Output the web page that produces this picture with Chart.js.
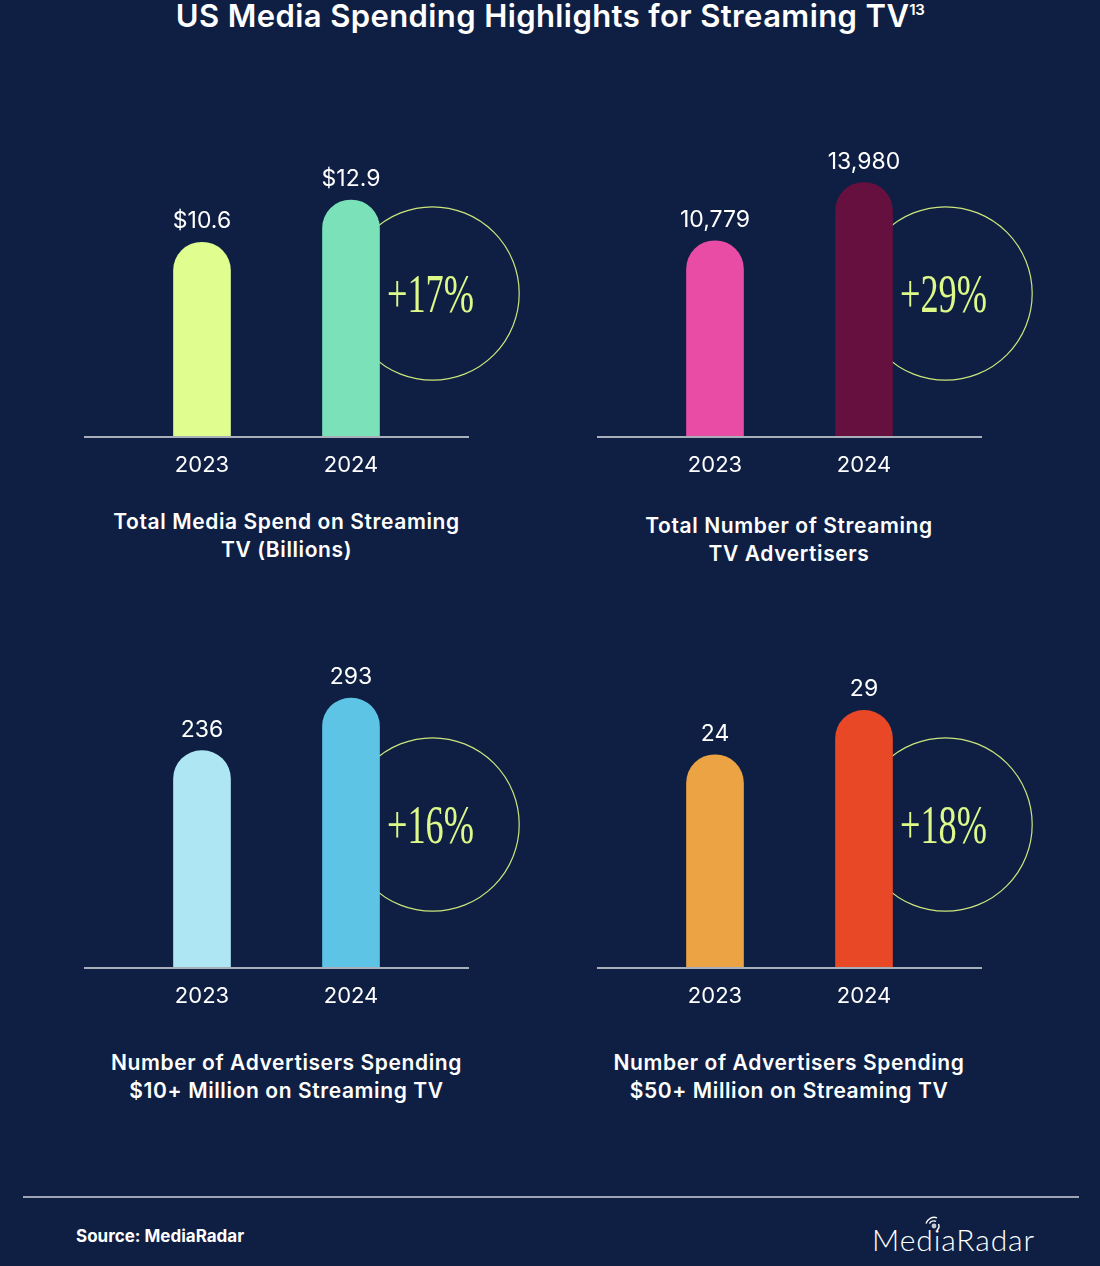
<!DOCTYPE html>
<html lang="en">
<head>
<meta charset="utf-8">
<title>US Media Spending Highlights for Streaming TV</title>
<script src="https://cdn.jsdelivr.net/npm/chart.js@4.4.1/dist/chart.umd.min.js"></script>
<style>
    html, body { margin: 0; padding: 0; }
    body {
        width: 1100px; height: 1266px; position: relative; overflow: hidden;
        background: #0f1f43; color: #fff;
        font-family: Inter, "Noto Sans", sans-serif;
    }
    .title {
        position: absolute; left: 0; top: -2px; width: 1100px;
        text-align: center; font-size: 31px; font-weight: 600; line-height: 36px;
        letter-spacing: 0.4px;
    }
    .title sup { font-size: 15px; vertical-align: 0; position: relative; top: -12px; letter-spacing: -0.5px; }
    .panel { position: absolute; }
    .caption {
        position: absolute; width: 480px; margin-left: -240px;
        text-align: center; font-size: 21px; font-weight: 600; line-height: 28px;
        letter-spacing: 0.6px;
    }
    .rule { position: absolute; left: 23px; top: 1196px; width: 1056px; height: 2px; background: #9ea4b3; }
    .source { position: absolute; left: 76px; top: 1226px; font-size: 17px; font-weight: 700; line-height: 20px; letter-spacing: 0; }
    .logo { position: absolute; left: 872px; top: 1221px; font-family: Lato, sans-serif; font-weight: 300; font-size: 30px; line-height: 36px; letter-spacing: 0.9px; }
    .logo-icon { position: absolute; left: 919px; top: 1215px; }
</style>
</head>
<body>
    <div class="title">US Media Spending Highlights for Streaming TV<sup>13</sup></div>

    <canvas class="panel" id="c0" width="460" height="393" style="left:84px;top:100px"></canvas>
    <canvas class="panel" id="c1" width="460" height="393" style="left:597px;top:100px"></canvas>
    <canvas class="panel" id="c2" width="460" height="393" style="left:84px;top:631px"></canvas>
    <canvas class="panel" id="c3" width="460" height="393" style="left:597px;top:631px"></canvas>

    <div class="caption" style="left:286.5px;top:508px">Total Media Spend on Streaming<br>TV (Billions)</div>
    <div class="caption" style="left:789px;top:512px">Total Number of Streaming<br>TV Advertisers</div>
    <div class="caption" style="left:286.5px;top:1049px">Number of Advertisers Spending<br>$10+ Million on Streaming TV</div>
    <div class="caption" style="left:789px;top:1049px">Number of Advertisers Spending<br>$50+ Million on Streaming TV</div>

    <div class="rule"></div>
    <div class="source">Source: MediaRadar</div>
    <svg class="logo-icon" width="26" height="18" viewBox="0 0 26 18">
        <circle cx="15" cy="11" r="2.4" fill="#c9ccd4"/>
        <path d="M10.5 8.5 A5 5 0 0 1 17 6.3" fill="none" stroke="#fff" stroke-width="1.4"/>
        <path d="M7 8.5 A8.5 8.5 0 0 1 18 2.8" fill="none" stroke="#fff" stroke-width="1.4"/>
        <path d="M19.5 9 A5 5 0 0 1 18 15" fill="none" stroke="#fff" stroke-width="1.4"/>
    </svg>
    <div class="logo">MediaRadar</div>

<script>
// Values
const years = ['2023', '2024'];
const mediaSpend = [10.6, 12.9];          // billions of dollars
const advertisers = [10779, 13980];
const spenders10M = [236, 293];
const spenders50M = [24, 29];
const growthLabels = ['+17%', '+29%', '+16%', '+18%'];

// Top of each value axis (scale setting, keeps bar heights like the original)
const axisMax = [16.33, 16480, 325.6, 33.76];

const series = [mediaSpend, advertisers, spenders10M, spenders50M];

const barColors = [
    ['#e0fd90', '#7be1b8'],
    ['#e84ca5', '#66103f'],
    ['#aee6f3', '#5dc4e6'],
    ['#eba344', '#e84826']
];

function formatValue(panel, v) {
    if (panel === 0) return '$' + v.toFixed(1);
    return v.toLocaleString('en-US');
}

// Circle, growth label, baseline and value labels
const decor = {
    id: 'decor',
    beforeDatasetsDraw(chart, args, opts) {
        const { ctx, chartArea } = chart;
        const last = chart.getDatasetMeta(0).data[1];
        ctx.save();
        ctx.strokeStyle = '#cbe67c';
        ctx.lineWidth = 1.2;
        ctx.beginPath();
        ctx.arc(last.x + 81.5, chartArea.bottom - 143.5, 86.7, 0, Math.PI * 2);
        ctx.stroke();
        ctx.restore();
    },
    afterDatasetsDraw(chart, args, opts) {
        const { ctx, chartArea } = chart;
        const meta = chart.getDatasetMeta(0);
        const values = chart.data.datasets[0].data;
        ctx.save();

        // baseline, half a category wider than the bars on each side
        const ext = (meta.data[1].x - meta.data[0].x) / 2 - 31;
        ctx.strokeStyle = '#a9aebb';
        ctx.lineWidth = 2;
        ctx.beginPath();
        ctx.moveTo(chartArea.left - ext, chartArea.bottom);
        ctx.lineTo(chartArea.right + ext, chartArea.bottom);
        ctx.stroke();

        // values above the bars
        ctx.fillStyle = '#ffffff';
        ctx.font = '400 23px Inter';
        ctx.textAlign = 'center';
        ctx.textBaseline = 'alphabetic';
        meta.data.forEach((bar, i) => {
            ctx.fillText(formatValue(opts.panel, values[i]), bar.x, bar.y - 14);
        });

        // growth label inside the circle
        const last = meta.data[1];
        ctx.translate(last.x + 79.5, chartArea.bottom - 143.5 + 18.5);
        ctx.scale(0.66, 1);
        ctx.font = '400 55px "Liberation Serif"';
        ctx.fillStyle = '#dcf98a';
        ctx.fillText(growthLabels[opts.panel], 0, 0);
        ctx.restore();
    }
};

function makeChart(i) {
    const canvas = document.getElementById('c' + i);
    new Chart(canvas, {
        type: 'bar',
        data: {
            labels: years,
            datasets: [{
                data: series[i],
                backgroundColor: barColors[i],
                barThickness: 57,
                borderRadius: { topLeft: 28.5, topRight: 28.5, bottomLeft: 0, bottomRight: 0 },
                borderSkipped: 'bottom'
            }]
        },
        options: {
            responsive: false,
            animation: false,
            layout: { padding: { left: 43.5, right: 118.5, top: 37, bottom: 0 } },
            plugins: {
                legend: { display: false },
                tooltip: { enabled: false },
                decor: { panel: i }
            },
            scales: {
                x: {
                    grid: { display: false, drawTicks: false },
                    border: { display: false },
                    ticks: {
                        color: '#ffffff',
                        font: { family: 'Inter', size: 22, lineHeight: '26px' },
                        padding: 15
                    }
                },
                y: { display: false, min: 0, max: axisMax[i] }
            }
        },
        plugins: [decor]
    });
}

for (let i = 0; i < 4; i++) makeChart(i);
</script>
</body>
</html>
